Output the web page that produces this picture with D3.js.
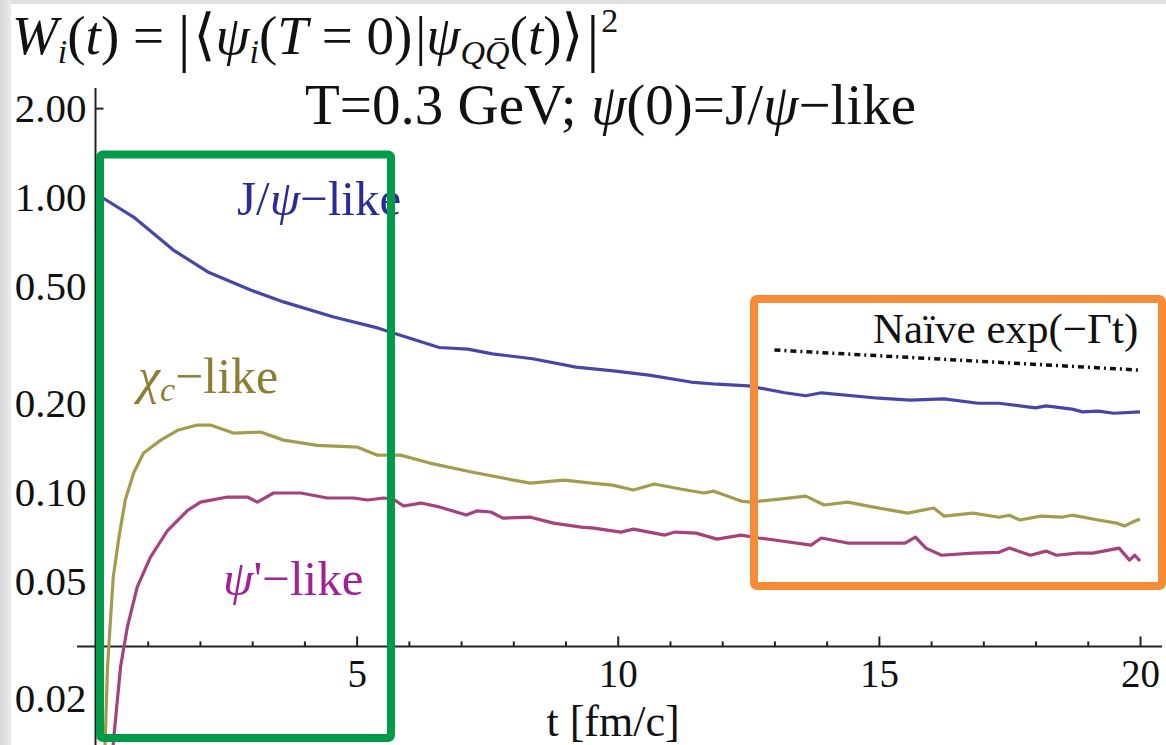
<!DOCTYPE html>
<html><head><meta charset="utf-8">
<script src="https://cdn.jsdelivr.net/npm/d3@7"></script>
<style>
body{margin:0;background:#fff;}
svg{display:block;}
text{font-family:"Liberation Serif","Times New Roman",serif;}
</style>
</head><body>
<svg id="c" width="1166" height="745"></svg>
<script>
// ---- data ----
const tJpsi=[0,0.15,0.73,1.49,2.15,2.97,3.6,4.56,5.4,6.58,7.13,7.6,8.37,9.2,9.96,10.6,11.4,11.9,12.5,13.2,13.6,13.9,15.0,15.6,16.25,16.9,17.3,17.7,18.0,18.2,18.7,18.9,19.2,19.5,20.0];
const vJpsi=[1.0,0.99,0.855,0.661,0.557,0.484,0.441,0.392,0.36,0.309,0.305,0.294,0.283,0.265,0.257,0.249,0.236,0.232,0.229,0.217,0.212,0.217,0.208,0.205,0.207,0.200,0.200,0.196,0.193,0.196,0.191,0.187,0.188,0.185,0.187];

const tChic=[0.12,0.19,0.23,0.29,0.34,0.44,0.57,0.73,0.92,1.25,1.57,1.95,2.2,2.64,3.16,3.6,4.25,5.02,5.4,5.84,6.4,7.2,8.0,8.33,8.97,9.5,9.9,10.3,10.7,11.2,11.65,11.84,12.36,12.55,13.1,13.6,13.95,14.4,14.9,15.55,16.05,16.25,16.8,17.3,17.5,17.7,18.1,18.5,18.7,19.2,19.55,19.7,19.85,20.0];
const vChic=[0.006,0.0152,0.0255,0.0377,0.0515,0.0687,0.094,0.116,0.1356,0.15,0.162,0.1687,0.1687,0.1585,0.1597,0.15,0.144,0.142,0.1334,0.1334,0.1254,0.117,0.1098,0.1073,0.1098,0.1073,0.1056,0.1016,0.1065,0.1024,0.0993,0.1007,0.0932,0.0925,0.0947,0.0969,0.0904,0.0925,0.0889,0.0849,0.0883,0.0829,0.0849,0.0822,0.0835,0.0804,0.0829,0.0822,0.0835,0.0804,0.0785,0.0767,0.079,0.081];

const tPsi2=[0.3,0.34,0.48,0.61,0.8,1.05,1.38,1.76,2.01,2.53,2.91,3.1,3.41,3.93,4.44,4.94,5.21,5.52,5.7,5.9,6.23,6.6,7.1,7.3,7.57,7.8,8.33,8.77,9.3,9.54,10.06,10.3,10.9,11.1,11.5,11.9,12.36,12.7,13.0,13.7,13.9,14.4,14.9,15.5,15.7,15.9,16.2,16.8,17.3,17.5,17.9,18.2,18.4,18.8,19.1,19.6,19.8,19.9,20.0];
const vPsi2=[0.008,0.0141,0.0256,0.0349,0.0477,0.0601,0.0741,0.0866,0.0925,0.0962,0.0962,0.0925,0.0993,0.0993,0.0955,0.0955,0.094,0.0955,0.0947,0.0897,0.0918,0.0889,0.0836,0.0863,0.0856,0.0816,0.0822,0.0785,0.0761,0.0755,0.0732,0.0749,0.0715,0.0732,0.0726,0.0693,0.0715,0.0699,0.0688,0.0661,0.0699,0.0672,0.0672,0.0672,0.0704,0.0646,0.0611,0.0621,0.0625,0.0646,0.0611,0.0631,0.0611,0.0621,0.0621,0.0646,0.0588,0.0611,0.0584];

const tNaive=[13,20];
const vNaive=[0.303,0.259];

const yMajor=[0.02,0.05,0.1,0.2,0.5,1,2];
const yMinor=[0.03,0.04,0.06,0.07,0.08,0.09,0.3,0.4,0.6,0.7,0.8,0.9];
const xMajor=[5,10,15,20];
const xMinor=[1,2,3,4,6,7,8,9,11,12,13,14,16,17,18,19];

// ---- drawing ----
const svg=d3.select("#c");
const W=1166,H=745;
svg.append("rect").attr("width",W).attr("height",H).attr("fill","#fff");
const defs=svg.append("defs");
const grad=defs.append("linearGradient").attr("id","lg");
grad.append("stop").attr("offset","0").attr("stop-color","#d6d6d6");
grad.append("stop").attr("offset","1").attr("stop-color","#ececec");
svg.append("rect").attr("x",0).attr("y",0).attr("width",W).attr("height",4).attr("fill","#e0e0e0");
svg.append("rect").attr("x",0).attr("y",0).attr("width",11).attr("height",H).attr("fill","url(#lg)");

const x=d3.scaleLinear().domain([0,20]).range([95.5,1140]);
const y=d3.scaleLog().domain([0.0139,2.34]).range([745,88]);
const xAxisY=y(0.03);

defs.append("clipPath").attr("id","clip")
  .append("rect").attr("x",96).attr("y",88).attr("width",W-96).attr("height",H-88);

// axes
const axCol="#222";
const yAx=svg.append("g").attr("transform",`translate(${x(0)},0)`)
  .call(d3.axisLeft(y).tickValues(yMajor).tickSize(-8).tickPadding(9).tickFormat(d3.format(".2f")));
yAx.select(".domain").remove();
yAx.selectAll("line").attr("stroke",axCol).attr("stroke-width",2);
yAx.selectAll("text").attr("font-size",41).attr("fill","#111").attr("font-family","Liberation Serif").attr("dy","0.33em");
const yAxm=svg.append("g").attr("transform",`translate(${x(0)},0)`)
  .call(d3.axisLeft(y).tickValues(yMinor).tickSize(-5).tickFormat(""));
yAxm.select(".domain").remove();
yAxm.selectAll("line").attr("stroke",axCol).attr("stroke-width",2);
svg.append("line").attr("x1",x(0)).attr("x2",x(0)).attr("y1",88).attr("y2",H)
  .attr("stroke",axCol).attr("stroke-width",2);

const xAx=svg.append("g").attr("transform",`translate(0,${xAxisY})`)
  .call(d3.axisBottom(x).tickValues(xMajor).tickSize(-10).tickPadding(13).tickFormat(d3.format("d")));
xAx.select(".domain").remove();
xAx.selectAll("line").attr("stroke",axCol).attr("stroke-width",2);
xAx.selectAll("text").attr("font-size",39).attr("fill","#111").attr("font-family","Liberation Serif");
const xAxm=svg.append("g").attr("transform",`translate(0,${xAxisY})`)
  .call(d3.axisBottom(x).tickValues(xMinor).tickSize(-5).tickFormat(""));
xAxm.select(".domain").remove();
xAxm.selectAll("line").attr("stroke",axCol).attr("stroke-width",2);
svg.append("line").attr("x1",77).attr("x2",1162).attr("y1",xAxisY).attr("y2",xAxisY)
  .attr("stroke",axCol).attr("stroke-width",2);

// curves
const line=d3.line().x(d=>x(d[0])).y(d=>y(d[1]));
const series=[
  {t:tJpsi,v:vJpsi,c:"#4646a6"},
  {t:tChic,v:vChic,c:"#a29c4c"},
  {t:tPsi2,v:vPsi2,c:"#a4417e"}
];
const cg=svg.append("g").attr("clip-path","url(#clip)");
series.forEach(s=>{
  cg.append("path").datum(s.t.map((t,i)=>[t,s.v[i]]))
    .attr("d",line).attr("fill","none").attr("stroke",s.c).attr("stroke-width",3.2)
    .attr("stroke-linejoin","round");
});
cg.append("path").datum(tNaive.map((t,i)=>[t,vNaive[i]]))
  .attr("d",line).attr("fill","none").attr("stroke","#111").attr("stroke-width",3.5)
  .attr("stroke-dasharray","6,4,2,4");

// labels
const lab=(xx,yy,fs,col)=>svg.append("text").attr("x",xx).attr("y",yy).attr("font-size",fs).attr("fill",col);
let t1=lab(237,215,49,"#2b2b97");
t1.append("tspan").text("J/");
t1.append("tspan").attr("font-style","italic").text("ψ");
t1.append("tspan").text("−like");

let t2=lab(138,393,50,"#8c7f33");
t2.append("tspan").attr("font-style","italic").text("χ");
t2.append("tspan").attr("font-style","italic").attr("font-size",34).attr("dy",8).text("c");
t2.append("tspan").attr("dy",-8).text("−like");

let t3=lab(223,595,49,"#a1209a");
t3.append("tspan").attr("font-style","italic").text("ψ");
t3.append("tspan").text("'−like");

let t4=lab(873,343,43,"#111");
t4.text("Naïve exp(−Γt)");

// title
let tt=lab(305,124,57,"#111");
tt.append("tspan").text("T=0.3 GeV; ");
tt.append("tspan").attr("font-style","italic").text("ψ");
tt.append("tspan").text("(0)=J/");
tt.append("tspan").attr("font-style","italic").text("ψ");
tt.append("tspan").text("−like");

// formula
let f=lab(12,54,55,"#111");
const it=(s)=>f.append("tspan").attr("font-style","italic").text(s);
const rm=(s)=>f.append("tspan").text(s);
it("W");
f.append("tspan").attr("font-style","italic").attr("font-size",34).attr("dy",9).text("i");
f.append("tspan").attr("dy",-9).text("(");
it("t"); rm(")  =  ");
f.append("tspan").attr("font-size",64).attr("dy",5).text("|");
f.append("tspan").attr("font-size",56).attr("dy",-5).attr("dx",3).attr("font-family","DejaVu Serif").text("⟨");
it("ψ");
f.append("tspan").attr("font-style","italic").attr("font-size",34).attr("dy",9).text("i");
f.append("tspan").attr("dy",-9).text("(");
it("T"); rm("  =  0)");
f.append("tspan").attr("dx",3).text("|");
it("ψ");
f.append("tspan").attr("font-style","italic").attr("font-size",34).attr("dy",10).text("QQ̄");
f.append("tspan").attr("dy",-10).text("(");
it("t"); rm(")");
f.append("tspan").attr("font-size",56).attr("font-family","DejaVu Serif").text("⟩");
f.append("tspan").attr("font-size",64).attr("dy",5).attr("dx",3).text("|");
f.append("tspan").attr("font-size",34).attr("dy",-27).attr("dx",2).text("2");

// x label
lab(613,736,44,"#111").attr("text-anchor","middle").text("t [fm/c]");

// highlight boxes
svg.append("rect").attr("x",100).attr("y",154.5).attr("width",291).attr("height",583.5)
  .attr("rx",3).attr("fill","none").attr("stroke","#019a49").attr("stroke-width",8);
svg.append("rect").attr("x",754).attr("y",299).attr("width",408).attr("height",287)
  .attr("rx",3).attr("fill","none").attr("stroke","#f68c38").attr("stroke-width",8);
</script>
</body></html>
